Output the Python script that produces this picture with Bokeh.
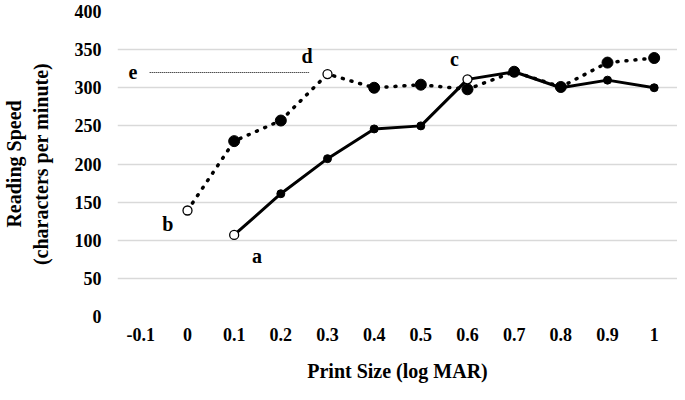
from bokeh.plotting import figure
from bokeh.models import Range1d, FixedTicker, Label
from bokeh.embed import file_html
from bokeh.resources import INLINE

# ---- data ----
x_ticks = [-0.1, 0, 0.1, 0.2, 0.3, 0.4, 0.5, 0.6, 0.7, 0.8, 0.9, 1]
x_tick_labels = ["-0.1", "0", "0.1", "0.2", "0.3", "0.4", "0.5", "0.6", "0.7", "0.8", "0.9", "1"]
y_ticks = [0, 50, 100, 150, 200, 250, 300, 350, 400]

solid_x = [0.1, 0.2, 0.3, 0.4, 0.5, 0.6, 0.7, 0.8, 0.9, 1]
solid_y = [107, 161, 207, 246, 250, 311, 321, 300, 310, 300]
solid_open = [True, False, False, False, False, True, False, False, False, False]

dotted_x = [0, 0.1, 0.2, 0.3, 0.4, 0.5, 0.6, 0.7, 0.8, 0.9, 1]
dotted_y = [139, 230, 257, 318, 300, 304, 298, 321, 301, 333, 339]
dotted_open = [True, False, False, True, False, False, False, False, False, False, False]

ann_text = ["a", "b", "c", "d", "e"]
ann_x = [0.149, -0.042, 0.572, 0.256, -0.117]
ann_y = [80, 121, 338, 342, 321]
e_line_x = [-0.081, 0.262]
e_line_y = [320, 320]

FONT = "Liberation Serif"

p = figure(width=677, height=384, output_backend="svg", toolbar_location=None,
           x_range=Range1d(-0.15, 1.05), y_range=Range1d(0, 400),
           min_border_left=113, min_border_right=0, min_border_top=11,
           min_border_bottom=0)
p.outline_line_color = None
p.background_fill_color = "white"

# grid
p.xgrid.grid_line_color = None
p.ygrid.grid_line_color = "#d9d9d9"
p.ygrid.grid_line_width = 1.5

# axes
p.xaxis.ticker = FixedTicker(ticks=x_ticks)
p.xaxis.major_label_overrides = {t: l for t, l in zip(x_ticks, x_tick_labels)}
p.yaxis.ticker = FixedTicker(ticks=y_ticks)
for ax in (p.xaxis, p.yaxis):
    ax.axis_line_color = None
    ax.major_tick_line_color = None
    ax.minor_tick_line_color = None
    ax.major_tick_out = 0
    ax.major_tick_in = 0
    ax.major_label_text_font = FONT
    ax.major_label_text_font_style = "bold"
    ax.major_label_text_font_size = "18px"
    ax.major_label_text_color = "black"
    ax.axis_label_text_font = FONT
    ax.axis_label_text_font_style = "bold"
    ax.axis_label_text_font_size = "20px"
    ax.axis_label_text_color = "black"
p.xaxis.major_label_standoff = 11
p.yaxis.major_label_standoff = 16
p.xaxis.axis_label = "Print Size (log MAR)"
p.xaxis.axis_label_standoff = 16
p.yaxis.axis_label = "Reading Speed\n(characters per minute)"
p.yaxis.axis_label_standoff = 20

# dotted series
p.line(dotted_x, dotted_y, line_color="black", line_width=3.5,
       line_dash="1 8", line_cap="round")
dfx = [x for x, o in zip(dotted_x, dotted_open) if not o]
dfy = [y for y, o in zip(dotted_y, dotted_open) if not o]
p.scatter(dfx, dfy, size=11, fill_color="black", line_color="black")

# solid series
p.line(solid_x, solid_y, line_color="black", line_width=3)
sfx = [x for x, o in zip(solid_x, solid_open) if not o]
sfy = [y for y, o in zip(solid_y, solid_open) if not o]
p.scatter(sfx, sfy, size=8, fill_color="black", line_color="black")

# open markers
ox = [x for x, o in zip(solid_x, solid_open) if o] + [x for x, o in zip(dotted_x, dotted_open) if o]
oy = [y for y, o in zip(solid_y, solid_open) if o] + [y for y, o in zip(dotted_y, dotted_open) if o]
p.scatter(ox, oy, size=9, fill_color="white", line_color="black", line_width=1.3)

# reference line e
p.line(e_line_x, e_line_y, line_color="black", line_width=1, line_dash="1 1")

for t, x, y in zip(ann_text, ann_x, ann_y):
    p.add_layout(Label(x=x, y=y, text=t, text_font=FONT, text_font_style="bold",
                       text_font_size="20px", text_color="black",
                       text_align="center", text_baseline="middle"))

open("out.html", "w").write(file_html(p, INLINE))
